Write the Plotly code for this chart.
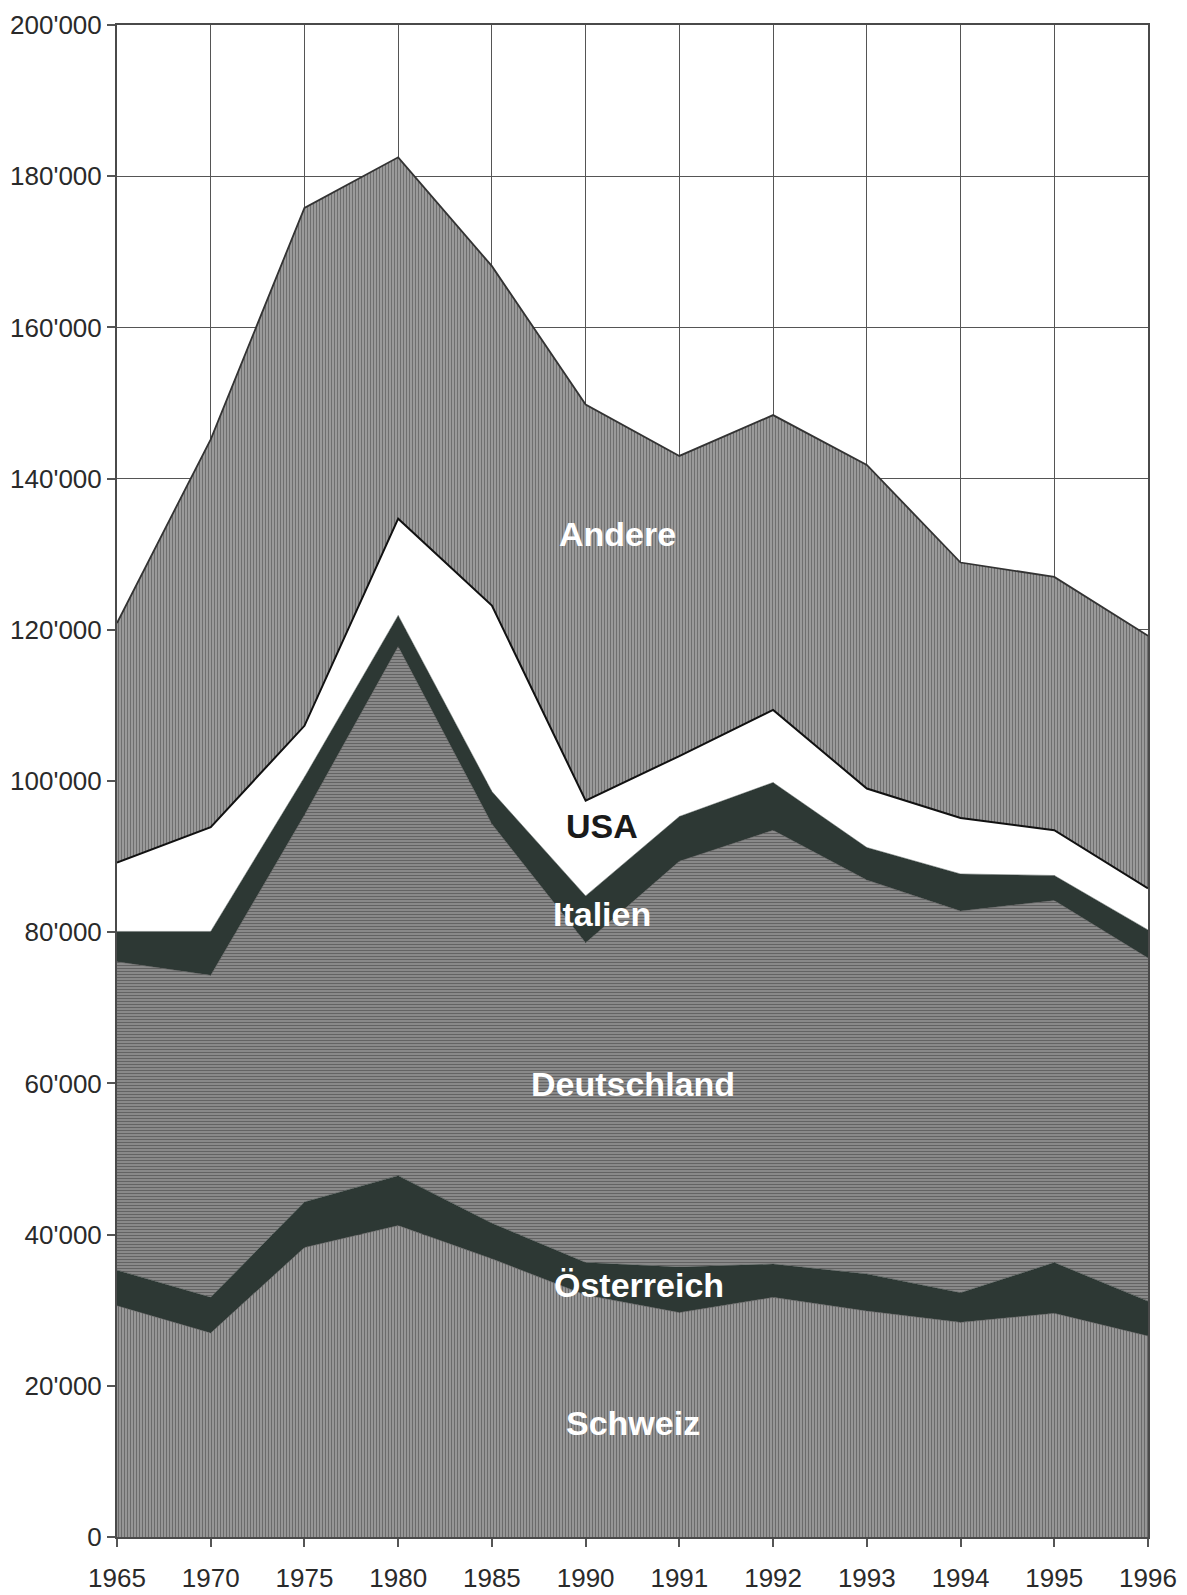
import plotly.graph_objects as go

years = ["1965", "1970", "1975", "1980", "1985", "1990", "1991", "1992", "1993", "1994", "1995", "1996"]

schweiz     = [30600, 27000, 38300, 41200, 36800, 32000, 29700, 31700, 29900, 28400, 29600, 26600]
oesterreich = [4700, 4700, 6000, 6600, 4700, 4300, 6000, 4400, 4900, 3900, 6700, 4600]
deutschland = [40800, 42600, 51200, 70000, 52800, 42300, 53700, 57400, 52100, 50500, 47900, 45400]
italien     = [4000, 5800, 5000, 4100, 4300, 6200, 5900, 6300, 4300, 4900, 3300, 3700]
usa         = [9100, 13800, 6800, 12800, 24600, 12600, 8000, 9600, 7800, 7400, 6000, 5500]
andere      = [31700, 51300, 68500, 47800, 44900, 52400, 39700, 39000, 42800, 33800, 33500, 33400]

y_ticks = [0, 20000, 40000, 60000, 80000, 100000, 120000, 140000, 160000, 180000, 200000]
y_tick_labels = ["0", "20'000", "40'000", "60'000", "80'000", "100'000", "120'000",
                 "140'000", "160'000", "180'000", "200'000"]

DARK = "#2d3834"

fig = go.Figure()

def add(name, vals, fillcolor=None, pattern=None, linecolor=None, linewidth=0):
    kw = dict(x=years, y=vals, name=name, mode="lines", stackgroup="one",
              line=dict(width=linewidth, color=linecolor or (fillcolor or "#666")),
              hoverinfo="x+y+name")
    if pattern is not None:
        kw["fillpattern"] = pattern
        kw["fillcolor"] = pattern.get("bgcolor")
    else:
        kw["fillcolor"] = fillcolor
    fig.add_trace(go.Scatter(**kw))

add("Schweiz", schweiz,
    pattern=dict(shape="|", bgcolor="#a6a6a6", fgcolor="#303030", size=3, solidity=0.52),
    linecolor="#4a4a4a", linewidth=0.5)
add("Österreich", oesterreich, fillcolor=DARK, linecolor=DARK, linewidth=0.5)
add("Deutschland", deutschland,
    pattern=dict(shape="-", bgcolor="#9a9a9a", fgcolor="#2c2c2c", size=3, solidity=0.55),
    linecolor="#4a4a4a", linewidth=0.5)
add("Italien", italien, fillcolor=DARK, linecolor=DARK, linewidth=0.5)
add("USA", usa, fillcolor="#ffffff", linecolor="#111111", linewidth=2)
add("Andere", andere,
    pattern=dict(shape="|", bgcolor="#aaaaaa", fgcolor="#343434", size=3, solidity=0.52),
    linecolor="#333333", linewidth=1.8)

labels = [
    ("Andere", 5.34, 132700, "#ffffff"),
    ("USA", 5.17, 94000, "#1a1a1a"),
    ("Italien", 5.17, 82400, "#ffffff"),
    ("Deutschland", 5.5, 59900, "#ffffff"),
    ("Österreich", 5.57, 33300, "#ffffff"),
    ("Schweiz", 5.5, 15100, "#ffffff"),
]
for text, xp, yp, col in labels:
    fig.add_annotation(x=xp, y=yp, xref="x", yref="y", text=text, showarrow=False,
                       font=dict(family="Liberation Sans, Arial, sans-serif", size=34,
                                 color=col, weight="bold"))

fig.update_layout(
    width=1187, height=1595,
    margin=dict(l=117, r=39, t=25, b=58),
    paper_bgcolor="#ffffff", plot_bgcolor="#ffffff",
    showlegend=False,
    font=dict(family="Liberation Sans, Arial, sans-serif", size=26, color="#2a2a2a"),
)
fig.update_xaxes(
    type="category", range=[0, 11], showgrid=True, gridcolor="#555555", gridwidth=1.3,
    showline=True, linecolor="#4a4a4a", linewidth=2, mirror=True,
    ticks="outside", ticklen=8, tickcolor="#555555", tickwidth=1.5,
    tickfont=dict(size=26, color="#2a2a2a"), ticklabelstandoff=9, automargin=False,
)
fig.update_yaxes(
    range=[0, 200000], tickvals=y_ticks, ticktext=y_tick_labels,
    showgrid=True, gridcolor="#555555", gridwidth=1.3,
    showline=True, linecolor="#4a4a4a", linewidth=2, mirror=True,
    ticks="outside", ticklen=8, tickcolor="#555555", tickwidth=1.5,
    tickfont=dict(size=26, color="#2a2a2a"), zeroline=False, automargin=False,
)

fig.write_html("out.html", config={"displayModeBar": False},
               post_script="document.body.style.margin='0';")
